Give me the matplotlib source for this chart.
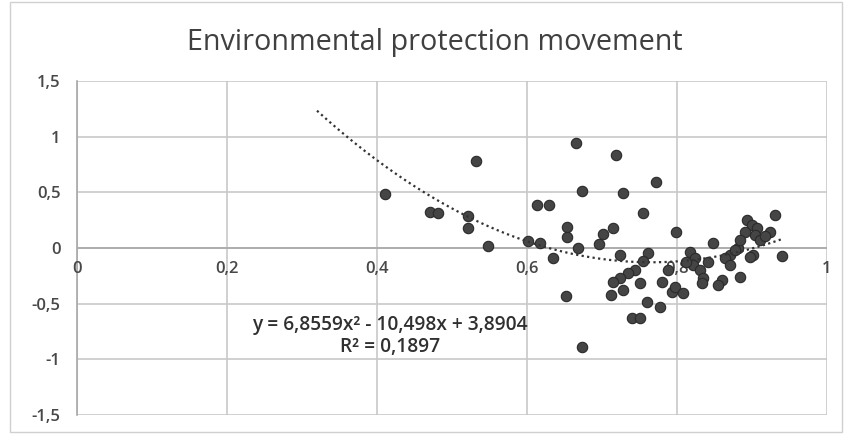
import matplotlib
matplotlib.use("Agg")
import matplotlib.pyplot as plt
import numpy as np

# data
x_vals = [0.411, 0.471, 0.481, 0.521, 0.521, 0.532, 0.548, 0.601, 0.617, 0.613,
          0.629, 0.635, 0.653, 0.653, 0.668, 0.665, 0.673, 0.719, 0.728, 0.772,
          0.755, 0.715, 0.701, 0.696, 0.799, 0.724, 0.761, 0.755, 0.744, 0.735,
          0.724, 0.715, 0.728, 0.712, 0.751, 0.760, 0.777, 0.740, 0.751, 0.780,
          0.788, 0.793, 0.797, 0.808, 0.673, 0.652, 0.817, 0.824, 0.821, 0.831,
          0.835, 0.833, 0.931, 0.924, 0.893, 0.900, 0.907, 0.904, 0.911, 0.891,
          0.940, 0.848, 0.881, 0.901, 0.871, 0.864, 0.841, 0.871, 0.884, 0.860,
          0.855, 0.897, 0.877, 0.812, 0.917, 0.884]
y_vals = [0.485, 0.323, 0.314, 0.288, 0.180, 0.782, 0.018, 0.063, 0.045, 0.386,
          0.386, -0.090, 0.189, 0.099, 0.000, 0.943, 0.512, 0.836, 0.494, 0.593,
          0.315, 0.180, 0.126, 0.036, 0.144, -0.063, -0.045, -0.117, -0.198, -0.225,
          -0.270, -0.306, -0.378, -0.423, -0.315, -0.485, -0.530, -0.629, -0.629, -0.306,
          -0.198, -0.395, -0.351, -0.404, -0.889, -0.431, -0.036, -0.090, -0.153, -0.198,
          -0.270, -0.315, 0.296, 0.144, 0.252, 0.207, 0.180, 0.117, 0.072, 0.144,
          -0.072, 0.045, 0.000, -0.063, -0.063, -0.090, -0.126, -0.153, -0.261, -0.288,
          -0.333, -0.081, -0.018, -0.126, 0.108, 0.072]

# trendline shown on the chart
coef = [6.8559, -10.498, 3.8904]
trend_start, trend_end = 0.32, 0.94
eq_text = "y = 6,8559x² - 10,498x + 3,8904"
r2_text = "R² = 0,1897"
title = "Environmental protection movement"

x_ticks = [0, 0.2, 0.4, 0.6, 0.8, 1]
y_ticks = [-1.5, -1, -0.5, 0, 0.5, 1, 1.5]


def fmt(v):
    s = ("%g" % v).replace(".", ",")
    return s


def main():
    plt.rcParams['font.family'] = ['Open Sans', 'DejaVu Sans']
    fig = plt.figure(figsize=(8.45, 4.34), dpi=100)
    ax = fig.add_axes([0.0911, 0.0438, 0.8876, 0.7696])

    grid_c = '#c8c8c8'
    txt_c = '#484848'

    ax.set_xlim(0, 1)
    ax.set_ylim(-1.5, 1.5)
    ax.set_xticks(x_ticks)
    ax.set_yticks(y_ticks)
    ax.grid(True, color=grid_c, linewidth=1.2)
    ax.set_axisbelow(True)

    for s in ['top', 'right', 'bottom']:
        ax.spines[s].set_visible(False)
    ax.spines['left'].set_color('#a8a8a8')
    ax.spines['left'].set_linewidth(1.2)
    ax.axhline(0, color='#a8a8a8', linewidth=1.2, zorder=1)

    ax.tick_params(length=0)
    ax.set_xticklabels([])
    ax.set_yticklabels([fmt(v) for v in y_ticks], color=txt_c, fontsize=12,
                       fontweight='semibold')
    ax.tick_params(axis='y', pad=12)
    for v in x_ticks:
        ax.text(v, -0.19, fmt(v), ha='center', va='center', color=txt_c, fontsize=12,
                fontweight='semibold')

    ax.scatter(x_vals, y_vals, s=56, color='#454545', edgecolor='#2a2a2a',
               linewidth=0.8, zorder=3)

    xt = np.linspace(trend_start, trend_end, 200)
    ax.plot(xt, np.polyval(coef, xt), linestyle=(0, (1, 1.5)), color='#333333',
            linewidth=1.6, zorder=4)

    ax.text(0.417, -0.69, eq_text, ha='center', va='center', color='#303030',
            fontsize=13.8, fontweight='semibold')
    ax.text(0.417, -0.89, r2_text, ha='center', va='center', color='#303030',
            fontsize=13.8, fontweight='semibold')

    fig.text(0.515, 0.901, title, ha='center', va='center', color='#404040', fontsize=20.7)

    fig.add_artist(plt.Rectangle((0.012, 0.005), 0.985, 0.99, transform=fig.transFigure,
                                 fill=False, edgecolor='#d0d0d0', linewidth=1))

    fig.savefig('out.png', dpi=100)


if __name__ == '__main__':
    main()
